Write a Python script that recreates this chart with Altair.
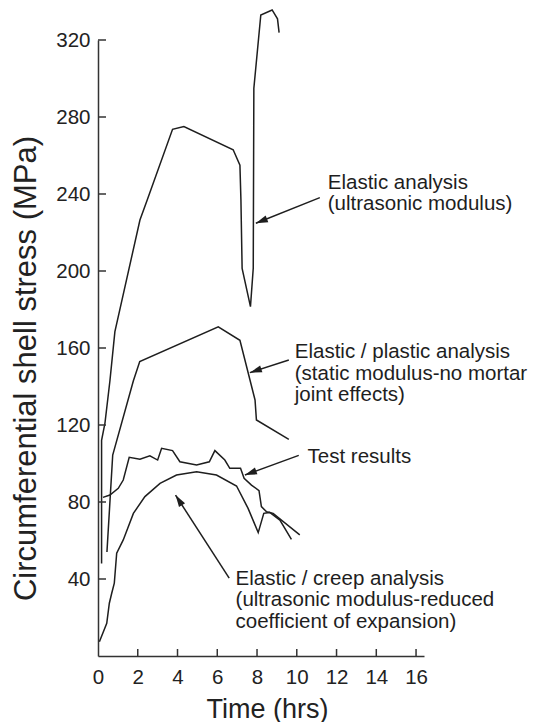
import math
import altair as alt
import pandas as pd

# ---------------- data ----------------
elastic_t = [0.18, 0.18, 0.35, 0.60, 0.85, 2.11, 2.48, 3.75, 4.32, 6.80, 7.14, 7.19, 7.25, 7.67, 7.81, 7.84, 8.19, 8.76, 9.03, 9.11]
elastic_s = [48, 112, 121, 143, 168.5, 226.5, 237, 273.6, 275, 263, 255, 237, 201.4, 181.5, 201.4, 294.9, 333, 335.6, 331, 323.8]

plastic_t = [0.45, 0.74, 1.78, 2.10, 6.05, 7.14, 7.90, 7.97, 9.60]
plastic_s = [54, 104.4, 143, 153, 171, 164, 133, 122.6, 112.5]

test_t = [0.25, 0.60, 1.02, 1.27, 1.57, 2.11, 2.61, 3.00, 3.20, 3.75, 4.12, 4.96, 5.60, 5.88, 6.38, 6.63, 7.17, 7.35, 7.72, 8.10, 8.22, 8.47, 8.81, 10.15]
test_s = [82.4, 83.6, 87.1, 91.4, 103.2, 102.2, 104.0, 101.8, 107.9, 106.7, 100.9, 99.2, 100.9, 106.7, 101.8, 97.5, 97.5, 92.3, 88.8, 85.9, 77.6, 75.0, 74.1, 62.9]

creep_t = [0.07, 0.44, 0.57, 0.69, 0.82, 0.94, 1.27, 1.78, 2.36, 3.12, 3.95, 4.96, 5.96, 6.97, 7.55, 8.06, 8.34, 8.64, 9.15, 9.73]
creep_s = [7.4, 17.0, 27.4, 32.6, 37.8, 53.4, 60.3, 74.1, 82.8, 89.7, 94.0, 95.7, 94.0, 88.3, 76.7, 64.1, 74.1, 74.6, 70.6, 60.6]

x_ticks = [0, 2, 4, 6, 8, 10, 12, 14, 16]
y_ticks = [40, 80, 120, 160, 200, 240, 280, 320]

# annotations: text, text position, arrow start, arrow tip
ann_text = [
    "Elastic analysis\n(ultrasonic modulus)",
    "Elastic / plastic analysis\n(static modulus-no mortar\njoint effects)",
    "Test results",
    "Elastic / creep analysis\n(ultrasonic modulus-reduced\ncoefficient of expansion)",
]
ann_tx = [11.56, 9.90, 10.54, 6.92]
ann_ty = [242.6, 154.8, 100.3, 36.9]
arrow_x0 = [11.16, 9.60, 10.10, 6.60]
arrow_y0 = [238.1, 153.8, 104.2, 40.5]
arrow_x1 = [7.94, 7.64, 7.39, 3.90]
arrow_y1 = [224.8, 147.2, 94.0, 83.6]

# ---------------- layout ----------------
XMAX = 16.4
YMAX = 320
W = 326
H = 616
SX = W / XMAX
SY = H / YMAX
INK = "#1e1e1e"
FONT = "Liberation Sans"


def series(name, t, s):
    return pd.DataFrame({"t": t, "s": s, "series": name, "order": list(range(len(t)))})


lines_df = pd.concat([
    series("elastic", elastic_t, elastic_s),
    series("plastic", plastic_t, plastic_s),
    series("test", test_t, test_s),
    series("creep", creep_t, creep_s),
], ignore_index=True)

angles = []
for xa, ya, xb, yb in zip(arrow_x0, arrow_y0, arrow_x1, arrow_y1):
    dx = (xb - xa) * SX
    dy = -(yb - ya) * SY
    angles.append(math.degrees(math.atan2(dx, -dy)) % 360)

ann_df = pd.DataFrame({
    "text": ann_text, "tx": ann_tx, "ty": ann_ty,
    "x0": arrow_x0, "y0": arrow_y0, "x1": arrow_x1, "y1": arrow_y1,
    "ang": angles,
})
ann_df["lines"] = ann_df["text"].str.split("\n")

xscale = alt.Scale(domain=[0, XMAX], nice=False, zero=False)
yscale = alt.Scale(domain=[0, YMAX], nice=False, zero=False)

x_axis = alt.Axis(values=x_ticks, ticks=False, grid=False, title="Time (hrs)",
                  labelPadding=11, titleY=61, titleBaseline="alphabetic",
                  titleX=169, labelFlush=False)
y_axis = alt.Axis(values=y_ticks, ticks=False, grid=False,
                  title="Circumferential shell stress (MPa)",
                  labelPadding=8, titleX=-72, titleY=328, titleBaseline="middle",
                  titleFontSize=31, labelFlush=False)

base_lines = alt.Chart(lines_df).mark_line(color=INK, strokeWidth=1.5, clip=False).encode(
    x=alt.X("t:Q", scale=xscale, axis=x_axis),
    y=alt.Y("s:Q", scale=yscale, axis=y_axis),
    detail="series:N",
    order="order:Q",
)

ytick_df = pd.DataFrame({"v": y_ticks})
xtick_df = pd.DataFrame({"v": x_ticks[1:]})

yt = alt.Chart(ytick_df).mark_rule(color="#333", strokeWidth=1.5).encode(
    y=alt.Y("v:Q", scale=yscale), x=alt.value(0), x2=alt.value(8))
xt = alt.Chart(xtick_df).mark_rule(color="#333", strokeWidth=1.5).encode(
    x=alt.X("v:Q", scale=xscale), y=alt.value(H), y2=alt.value(H - 7))

arrows = alt.Chart(ann_df).mark_rule(color=INK, strokeWidth=1.5).encode(
    x=alt.X("x0:Q", scale=xscale), y=alt.Y("y0:Q", scale=yscale),
    x2="x1:Q", y2="y1:Q")

heads = alt.Chart(ann_df).mark_point(
    shape="M0,0L-0.6,2L0.6,2Z", filled=True, color=INK, opacity=1, size=144, strokeWidth=0
).encode(
    x=alt.X("x1:Q", scale=xscale), y=alt.Y("y1:Q", scale=yscale),
    angle=alt.Angle("ang:Q", scale=None))

labels = alt.Chart(ann_df).mark_text(
    align="left", baseline="alphabetic", font=FONT, fontSize=20.5, lineHeight=21.5,
    color=INK).encode(
    x=alt.X("tx:Q", scale=xscale), y=alt.Y("ty:Q", scale=yscale), text="lines")

chart = alt.layer(base_lines, yt, xt, arrows, heads, labels).properties(
    width=W, height=H, autosize="none",
    padding={"left": 90, "top": 32, "right": 112, "bottom": 66},
).configure_view(strokeWidth=0).configure_axis(
    domainColor="#333", domainWidth=1.5, labelFont=FONT, labelFontSize=20.5,
    labelColor="#222", titleFont=FONT, titleFontSize=27, titleFontWeight="normal",
    titleColor="#222",
)

chart.save("out.html", embed_options={"renderer": "svg", "actions": False})
